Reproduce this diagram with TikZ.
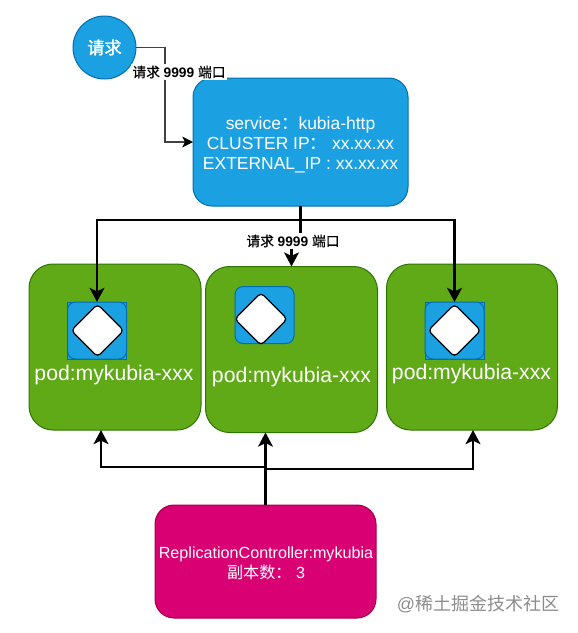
\documentclass[tikz,border=0pt]{standalone}
\usepackage{fontspec}
\setmainfont{Liberation Sans}
\newfontfamily\cjk{Noto Sans CJK SC}
\newfontfamily\cjkb[FakeBold=2]{Noto Sans CJK SC}
\newfontfamily\cjkm[FakeBold=0.5]{Noto Sans CJK SC}
\usetikzlibrary{arrows.meta,shapes.geometric}
\definecolor{bluef}{HTML}{1BA1E2}
\definecolor{blues}{HTML}{006EAF}
\definecolor{greenf}{HTML}{60A917}
\definecolor{greens}{HTML}{2D7600}
\definecolor{pinkf}{HTML}{D80073}
\definecolor{pinks}{HTML}{A50040}
\tikzset{
 x=0.75pt,y=-0.75pt,
 box/.style={rectangle,rounded corners=#1*0.75pt,inner sep=0pt,outer sep=0pt,line width=0.75pt},
 bluebox/.style={box=#1,draw=blues,fill=bluef},
 greenbox/.style={box=24,draw=greens,fill=greenf,minimum width=172*0.75pt,minimum height=166*0.75pt},
 square/.style={rectangle,draw=blues,fill=bluef,line width=0.75pt,minimum width=59*0.75pt,minimum height=57*0.75pt,inner sep=0pt,outer sep=0pt},
 roundsq/.style={square,rounded corners=6pt},
 dia/.style={diamond,aspect=1,draw=black,fill=white,line width=0.9pt,rounded corners=3pt,minimum width=53*0.75pt,minimum height=53*0.75pt,inner sep=0pt},
 boxtext/.style={text=white,inner sep=0pt,align=center},
 podtext/.style={boxtext,font=\fontsize{15.9}{18}\selectfont},
 thin conn/.style={draw=black!75,line width=1.1pt,-{Stealth[length=8pt,width=8pt,inset=2pt,color=black]}},
 thick conn/.style={draw=black,line width=2pt,-{Stealth[length=10.5pt,width=11pt,inset=2.5pt]}},
 plain conn/.style={draw=black,line width=2pt},
 lab/.style={fill=white,inner sep=1pt,text=black,font=\fontsize{10.3}{11}\selectfont},
}
\begin{document}
\begin{tikzpicture}
\useasboundingbox (0,0) rectangle (578,633);
% nodes
\node[circle,draw=blues,fill=bluef,line width=0.75pt,minimum size=63*0.75pt,inner sep=0pt,outer sep=0pt,text=white,font=\fontsize{12.8}{14}\selectfont] (req) at (104.5,47.5) {\cjkb 请求};
\node[bluebox=19,minimum width=215*0.75pt,minimum height=128*0.75pt] (svc) at (300.5,142) {};
\node[boxtext,font=\fontsize{13.1}{15}\selectfont] (svct) at (300.5,144.5) {service{\cjk ：}kubia-http\\CLUSTER IP{\cjk ：} xx.xx.xx\\EXTERNAL\_IP : xx.xx.xx};
\node[greenbox] (pod1) at (115,347) {};
\node[greenbox] (pod2) at (291.5,349.5) {};
\node[greenbox,minimum width=171*0.75pt] (pod3) at (472,347) {};
\node[square] (sqa) at (97,330.5) {};
\node[roundsq] (in1) at (97,330.5) {};
\node[roundsq] (in2) at (264.5,315) {};
\node[square] (sqc) at (454.5,330.5) {};
\node[roundsq] (in3) at (454.5,330.5) {};
\node[dia] (d1) at (97.5,330.5) {};
\node[dia] (d2) at (261,319) {};
\node[dia] (d3) at (454.5,330.5) {};
\node[podtext] (t1) at (114,375) {pod:mykubia-xxx};
\node[podtext] (t2) at (291.5,377.5) {pod:mykubia-xxx};
\node[podtext] (t3) at (471.5,374) {pod:mykubia-xxx};
\node[box=19,draw=pinks,fill=pinkf,minimum width=221*0.75pt,minimum height=113*0.75pt] (rc) at (265.5,561.5) {};
\node[boxtext,font=\fontsize{12.1}{15}\selectfont] (rct) at (266,563.5) {ReplicationController:mykubia\\{\cjk 副本数：} 3};
% connectors
\coordinate (p1in) at (101,430);
\coordinate (p3in) at (473,430);
\coordinate (jl) at (265.5,467);
\coordinate (jr) at (265.5,469);
\coordinate (bend) at (300.5,220);
\coordinate (jog) at (291.5,241);
\draw[thin conn] (req.east) -- (165,47.5) |- (svc.west);
\draw[thick conn] (svc.south) -- (bend) -| (in1.north);
\draw[thick conn] (bend) -| (in3.north);
\draw[plain conn] (bend) -- (300.5,241) -- (jog);
\draw[thick conn] (jog) -- (pod2.north);
\draw[thick conn] (rc.north) -- (rc.north |- pod2.south);
\draw[thick conn] (jl) -| (p1in);
\draw[thick conn] (jr) -| (p3in);
% labels
\node[lab] (l1) at (179,72) {{\cjkm 请求} \textbf{9999} {\cjkm 端口}};
\node[lab] (l2) at (293,241) {{\cjkm 请求} \textbf{9999} {\cjkm 端口}};
\node[inner sep=0pt,text=black!45,font=\fontsize{13.5}{16}\selectfont] (wm) at (478,604) {@{\cjk 稀土掘金技术社区}};
\end{tikzpicture}
\end{document}
